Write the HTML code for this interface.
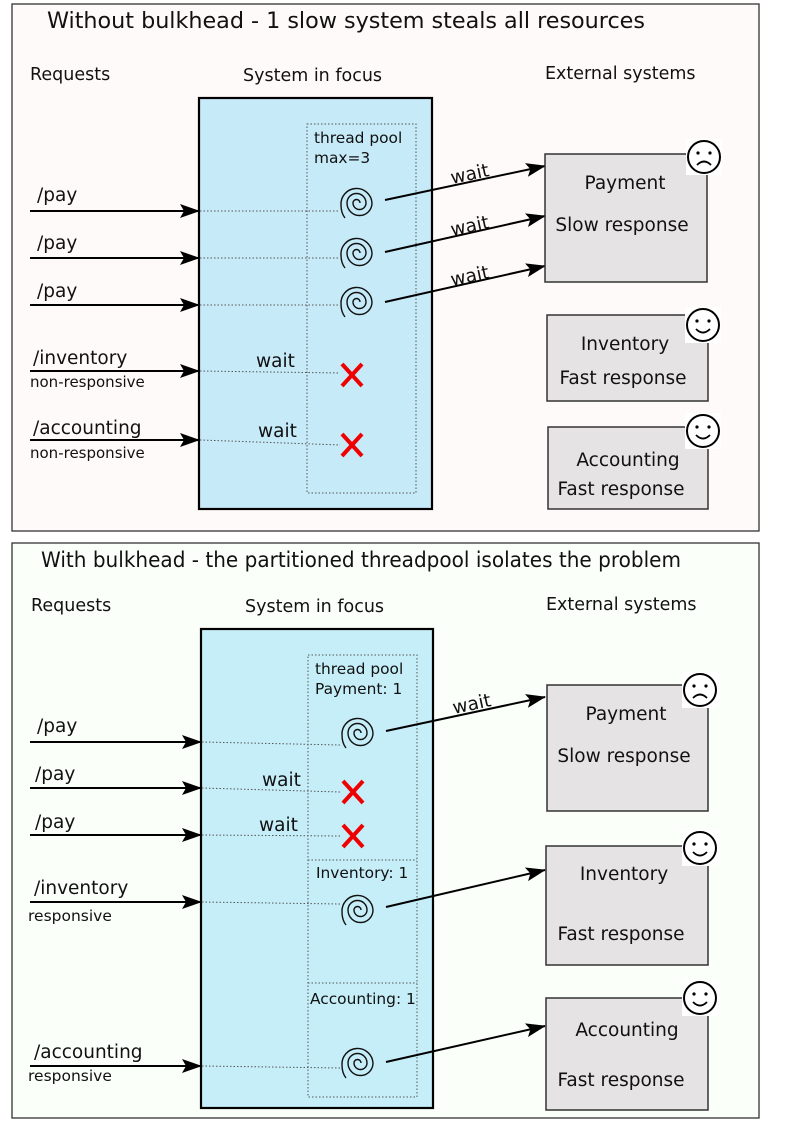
<!DOCTYPE html>
<html><head><style>body{margin:0;background:#fff}svg{display:block}text{font-family:"DejaVu Sans","Liberation Sans",sans-serif;fill:#111}</style></head><body>
<svg width="794" height="1123" viewBox="0 0 794 1123" xmlns="http://www.w3.org/2000/svg">
<defs>
<marker id="ah" markerWidth="20" markerHeight="14" refX="19" refY="7" orient="auto" markerUnits="userSpaceOnUse"><path d="M0,0 L20,7 L0,14 L4,7 z" fill="#000"/></marker>
<g id="sp"><path d="M2,0 A3.5,3.5 0 0 0 -5,0 A6.5,6.5 0 0 0 8,0 A9.5,9.5 0 0 0 -11,0 A12.5,12.5 0 0 0 14,0 A15.5,15.5 0 0 0 -17,2 Q-17,10 -13,15" fill="none" stroke="#111" stroke-width="1.4"/></g>
<g id="xx"><path d="M-10,-11 L10,11 M10,-11 L-10,11" stroke="#e00" stroke-width="4"/></g>
<g id="sad"><rect x="-18" y="-18" width="36" height="36" fill="#fff"/><circle r="16" fill="#fff" stroke="#000" stroke-width="2"/><circle cx="-6" cy="-4" r="1.6"/><circle cx="6" cy="-4" r="1.6"/><path d="M-7,8 Q0,1 7,8" fill="none" stroke="#000" stroke-width="1.8"/></g>
<g id="hap"><rect x="-18" y="-18" width="36" height="36" fill="#fff"/><circle r="16" fill="#fff" stroke="#000" stroke-width="2"/><circle cx="-6" cy="-4" r="1.6"/><circle cx="6" cy="-4" r="1.6"/><path d="M-7,4 Q0,11 7,4" fill="none" stroke="#000" stroke-width="1.8"/></g>
</defs>
<!-- TOP -->
<rect x="12" y="4" width="747" height="527" fill="#fffafa" stroke="#333" stroke-width="1.3"/>
<text x="47" y="28" font-size="22.3" textLength="598">Without bulkhead - 1 slow system steals all resources</text>
<text x="30" y="80" font-size="17.5">Requests</text>
<text x="243" y="81" font-size="17.5">System in focus</text>
<text x="545" y="79" font-size="17.5">External systems</text>
<rect x="199" y="98" width="233" height="411" fill="#c6eaf8" stroke="#000" stroke-width="2.2"/>
<rect x="307" y="124" width="109" height="369" fill="none" stroke="#555" stroke-dasharray="1.5,2"/>
<text x="314" y="143" font-size="15.4">thread pool</text><text x="314" y="163" font-size="15.4">max=3</text>
<g stroke="#555" stroke-dasharray="1.5,2"><line x1="200" y1="211" x2="340" y2="211"/><line x1="200" y1="258" x2="340" y2="258"/><line x1="200" y1="305" x2="340" y2="305"/><line x1="200" y1="371" x2="340" y2="373"/><line x1="200" y1="440" x2="340" y2="445"/></g>
<g stroke="#000" stroke-width="2" marker-end="url(#ah)"><line x1="30" y1="211" x2="199" y2="211"/><line x1="30" y1="258" x2="199" y2="258"/><line x1="30" y1="305" x2="199" y2="305"/><line x1="30" y1="371" x2="199" y2="371"/><line x1="30" y1="440" x2="199" y2="440"/></g>
<g font-size="18.5"><text x="37" y="201">/pay</text><text x="37" y="249">/pay</text><text x="37" y="297">/pay</text><text x="33" y="364">/inventory</text><text x="33" y="434">/accounting</text></g>
<text x="30" y="387" font-size="15">non-responsive</text><text x="30" y="458" font-size="15">non-responsive</text>
<text x="256" y="367" font-size="18.5">wait</text><text x="258" y="437" font-size="18.5">wait</text>
<use href="#sp" x="358" y="203"/><use href="#sp" x="358" y="253"/><use href="#sp" x="358" y="302"/>
<use href="#xx" x="352" y="375"/><use href="#xx" x="352" y="445"/>
<g stroke="#000" stroke-width="2" marker-end="url(#ah)"><line x1="385" y1="200" x2="545" y2="166"/><line x1="385" y1="252" x2="545" y2="216"/><line x1="385" y1="302" x2="545" y2="266"/></g>
<g font-size="18.5"><text x="452" y="184" transform="rotate(-12 452 184)">wait</text><text x="452" y="236" transform="rotate(-12 452 236)">wait</text><text x="452" y="286" transform="rotate(-12 452 286)">wait</text></g>
<g fill="#e5e3e3" stroke="#333" stroke-width="1.5"><rect x="545" y="154" width="162" height="128"/><rect x="547" y="315" width="161" height="86"/><rect x="548" y="427" width="160" height="82"/></g>
<g font-size="18.5" text-anchor="middle"><text x="625" y="189">Payment</text><text x="622" y="231">Slow response</text><text x="625" y="350">Inventory</text><text x="623" y="384">Fast response</text><text x="628" y="466">Accounting</text><text x="621" y="495">Fast response</text></g>
<use href="#sad" x="704" y="157"/><use href="#hap" x="703" y="325"/><use href="#hap" x="703" y="431"/>
<!-- BOTTOM -->
<rect x="12" y="543" width="747" height="575" fill="#fafffa" stroke="#333" stroke-width="1.3"/>
<text x="41" y="567" font-size="21" textLength="640" lengthAdjust="spacingAndGlyphs">With bulkhead - the partitioned threadpool isolates the problem</text>
<text x="31" y="611" font-size="17.5">Requests</text>
<text x="245" y="612" font-size="17.5">System in focus</text>
<text x="546" y="610" font-size="17.5">External systems</text>
<rect x="201" y="629" width="232" height="479" fill="#c6eef8" stroke="#000" stroke-width="2.2"/>
<rect x="308" y="655" width="109" height="442" fill="none" stroke="#555" stroke-dasharray="1.5,2"/>
<g stroke="#555" stroke-dasharray="1.5,2"><line x1="308" y1="860" x2="417" y2="860"/><line x1="308" y1="983" x2="417" y2="983"/>
<line x1="202" y1="742" x2="340" y2="745"/><line x1="202" y1="788" x2="340" y2="792"/><line x1="202" y1="835" x2="340" y2="836"/><line x1="202" y1="902" x2="340" y2="904"/><line x1="202" y1="1066" x2="340" y2="1068"/></g>
<text x="315" y="674" font-size="15.4">thread pool</text><text x="315" y="694" font-size="15.4">Payment: 1</text>
<text x="316" y="878" font-size="15.4">Inventory: 1</text><text x="310" y="1004" font-size="15.4">Accounting: 1</text>
<g stroke="#000" stroke-width="2" marker-end="url(#ah)"><line x1="30" y1="742" x2="201" y2="742"/><line x1="30" y1="788" x2="201" y2="788"/><line x1="30" y1="835" x2="201" y2="835"/><line x1="30" y1="902" x2="201" y2="902"/><line x1="30" y1="1066" x2="201" y2="1066"/></g>
<g font-size="18.5"><text x="37" y="732">/pay</text><text x="35" y="780">/pay</text><text x="35" y="828">/pay</text><text x="34" y="894">/inventory</text><text x="34" y="1058">/accounting</text></g>
<text x="28" y="921" font-size="15.5" font-family="Liberation Sans">responsive</text><text x="28" y="1081" font-size="15.5" font-family="Liberation Sans">responsive</text>
<text x="262" y="786" font-size="18.5">wait</text><text x="259" y="831" font-size="18.5">wait</text>
<use href="#sp" x="359" y="733"/><use href="#sp" x="359" y="910"/><use href="#sp" x="359" y="1063"/>
<use href="#xx" x="353" y="792"/><use href="#xx" x="353" y="836"/>
<g stroke="#000" stroke-width="2" marker-end="url(#ah)"><line x1="386" y1="731" x2="545" y2="697"/><line x1="386" y1="907" x2="545" y2="870"/><line x1="386" y1="1062" x2="545" y2="1026"/></g>
<text x="454" y="714" font-size="18.5" transform="rotate(-12 454 714)">wait</text>
<g fill="#e5e3e3" stroke="#333" stroke-width="1.5"><rect x="547" y="685" width="161" height="126"/><rect x="546" y="846" width="162" height="119"/><rect x="546" y="998" width="162" height="112"/></g>
<g font-size="18.5" text-anchor="middle"><text x="626" y="720">Payment</text><text x="624" y="762">Slow response</text><text x="624" y="880">Inventory</text><text x="621" y="940">Fast response</text><text x="627" y="1036">Accounting</text><text x="621" y="1086">Fast response</text></g>
<use href="#sad" x="700" y="690"/><use href="#hap" x="700" y="848"/><use href="#hap" x="700" y="998"/>
</svg>
</body></html>
